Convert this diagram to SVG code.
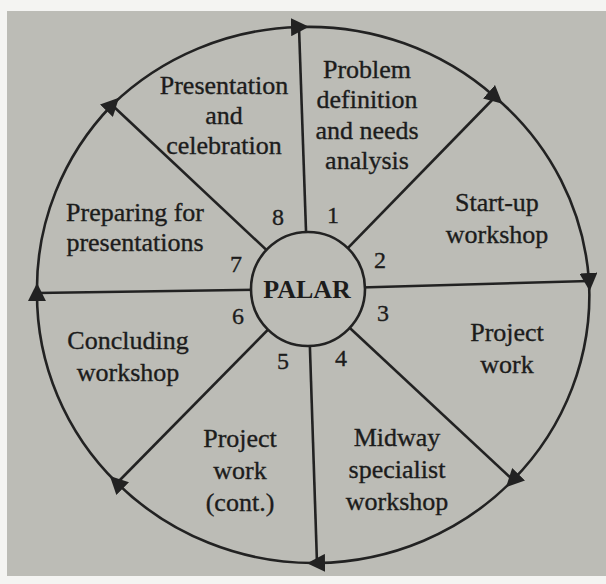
<svg xmlns="http://www.w3.org/2000/svg" width="606" height="584" viewBox="0 0 606 584">
<style>
.bg{fill:#bcbcb6}
.ln{fill:none;stroke:#222;stroke-width:2.6}
.rim{fill:none;stroke:#222;stroke-width:2.6;marker-end:url(#ah)}
.t{font-family:"Liberation Serif","Times New Roman",serif;font-size:26px;fill:#1c1c1c;stroke:#1c1c1c;stroke-width:0.35;text-anchor:middle}
.n{font-family:"Liberation Serif","Times New Roman",serif;font-size:24px;fill:#1c1c1c;stroke:#1c1c1c;stroke-width:0.35;text-anchor:middle}
.c{font-family:"Liberation Serif","Times New Roman",serif;font-size:26px;font-weight:bold;fill:#1c1c1c;text-anchor:middle}
</style>
<defs>
<marker id="ah" viewBox="0 0 18 18" refX="8" refY="9" markerWidth="18" markerHeight="18" markerUnits="userSpaceOnUse" orient="auto">
<path d="M0,0 L18,9 L0,18 z" fill="#222"/>
</marker>
</defs>
<rect x="0" y="0" width="606" height="584" fill="#f4f4f2"/>
<rect class="bg" x="7" y="11" width="599" height="565"/>
<g id="connectors">
<line class="ln" x1="308" y1="289" x2="299" y2="27"/>
<line class="ln" x1="308" y1="289" x2="495" y2="97"/>
<line class="ln" x1="308" y1="289" x2="589" y2="281"/>
<line class="ln" x1="308" y1="289" x2="513" y2="480"/>
<line class="ln" x1="308" y1="289" x2="317" y2="563"/>
<line class="ln" x1="308" y1="289" x2="117" y2="483"/>
<line class="ln" x1="308" y1="289" x2="37" y2="293"/>
<line class="ln" x1="308" y1="289" x2="112" y2="105"/>
<path class="rim" d="M112,105 A276,268 0 0 1 299,27"/>
<path class="rim" d="M299,27 A276,268 0 0 1 495,97"/>
<path class="rim" d="M495,97 A276,268 0 0 1 589,281"/>
<path class="rim" d="M589,281 A276,268 0 0 1 513,480"/>
<path class="rim" d="M513,480 A276,268 0 0 1 317,563"/>
<path class="rim" d="M317,563 A276,268 0 0 1 117,483"/>
<path class="rim" d="M117,483 A276,268 0 0 1 37,293"/>
<path class="rim" d="M37,293 A276,268 0 0 1 112,105"/>
</g>
<g id="palar">
<circle cx="308" cy="289" r="57" fill="#bcbcb6" stroke="#222" stroke-width="2.6"/>
<text class="c" x="307" y="298">PALAR</text>
</g>
<g id="stage1">
<text class="t" x="367" y="78">Problem</text>
<text class="t" x="367" y="108">definition</text>
<text class="t" x="367" y="139">and needs</text>
<text class="t" x="367" y="169">analysis</text>
<text class="n" x="333" y="223">1</text>
</g>
<g id="stage2">
<text class="t" x="497" y="211">Start-up</text>
<text class="t" x="497" y="243">workshop</text>
<text class="n" x="380" y="268">2</text>
</g>
<g id="stage3">
<text class="t" x="507" y="341">Project</text>
<text class="t" x="507" y="373">work</text>
<text class="n" x="383" y="321">3</text>
</g>
<g id="stage4">
<text class="t" x="397" y="446">Midway</text>
<text class="t" x="397" y="478">specialist</text>
<text class="t" x="397" y="510">workshop</text>
<text class="n" x="341" y="366">4</text>
</g>
<g id="stage5">
<text class="t" x="240" y="447">Project</text>
<text class="t" x="240" y="479">work</text>
<text class="t" x="240" y="511">(cont.)</text>
<text class="n" x="283" y="369">5</text>
</g>
<g id="stage6">
<text class="t" x="128" y="349">Concluding</text>
<text class="t" x="128" y="381">workshop</text>
<text class="n" x="238" y="324">6</text>
</g>
<g id="stage7">
<text class="t" x="135" y="221">Preparing for</text>
<text class="t" x="135" y="251">presentations</text>
<text class="n" x="236" y="272">7</text>
</g>
<g id="stage8">
<text class="t" x="224" y="94">Presentation</text>
<text class="t" x="224" y="124">and</text>
<text class="t" x="224" y="154">celebration</text>
<text class="n" x="278" y="225">8</text>
</g>
</svg>
